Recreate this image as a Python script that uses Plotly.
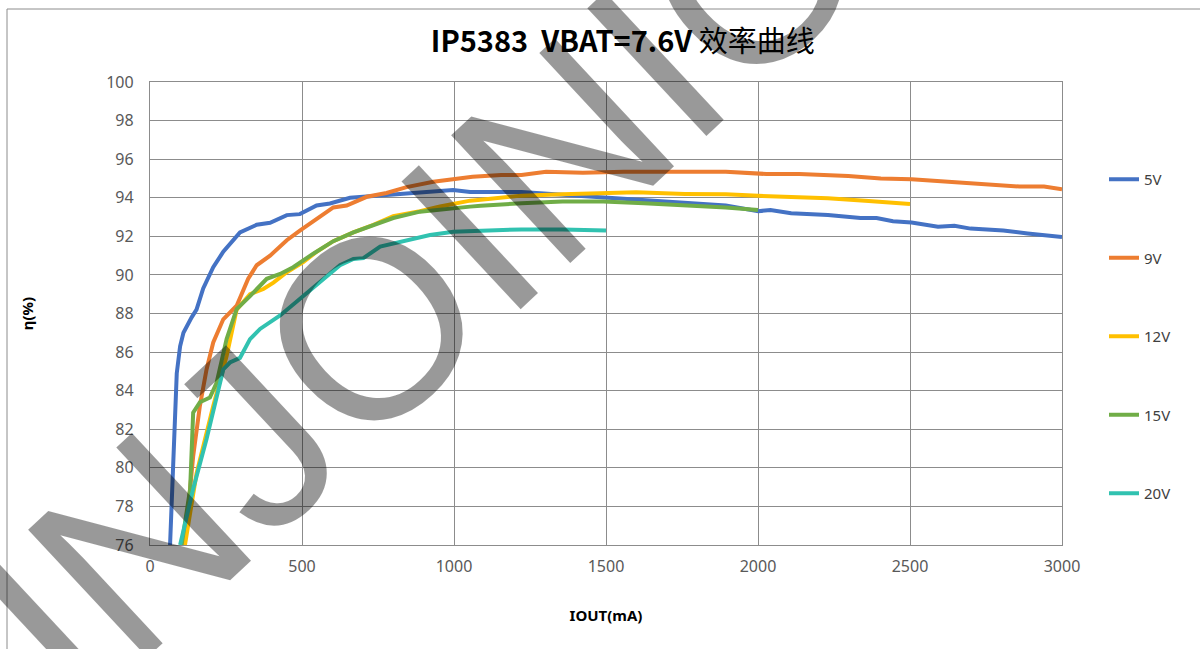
import plotly.graph_objects as go

# ---- data ----
series_names = ["5V", "9V", "12V", "15V", "20V"]
series_colors = ["#4472C4", "#ED7D31", "#FFC000", "#70AD47", "#31C2B0"]

x5 = [66, 77, 88, 99, 110, 137, 153, 175, 208, 241, 296, 351, 395, 450, 493, 548, 592, 658, 734, 845, 910, 997,
      1053, 1088, 1222, 1357, 1491, 1625, 1760, 1894, 2001, 2041, 2109, 2230, 2337, 2390, 2444, 2505, 2592, 2646,
      2699, 2807, 2887, 3000]
y5 = [76.0, 80.6, 84.9, 86.3, 87.0, 87.8, 88.2, 89.3, 90.4, 91.2, 92.2, 92.6, 92.7, 93.1, 93.15, 93.6, 93.7, 94.0,
      94.1, 94.2, 94.3, 94.4, 94.3, 94.3, 94.3, 94.15, 94.0, 93.9, 93.75, 93.6, 93.3, 93.37, 93.2, 93.1, 92.95,
      92.95, 92.78, 92.72, 92.5, 92.55, 92.4, 92.3, 92.15, 91.97]

x9 = [113, 121, 142, 164, 186, 208, 241, 285, 323, 351, 395, 450, 493, 548, 603, 647, 713, 778, 844, 932, 998,
      1061, 1155, 1222, 1303, 1424, 1558, 1693, 1894, 2028, 2136, 2297, 2404, 2505, 2632, 2766, 2860, 2941, 3000]
y9 = [76.0, 77.1, 80.6, 83.2, 85.1, 86.5, 87.7, 88.4, 89.8, 90.5, 91.0, 91.8, 92.3, 92.9, 93.5, 93.6, 94.05, 94.25,
      94.55, 94.83, 94.96, 95.09, 95.18, 95.18, 95.35, 95.3, 95.35, 95.34, 95.35, 95.23, 95.23, 95.13, 95.0, 94.96,
      94.83, 94.7, 94.58, 94.58, 94.44]

x12 = [115, 153, 208, 252, 285, 329, 373, 406, 450, 504, 548, 603, 669, 735, 800, 888, 954, 1053, 1088, 1222,
       1357, 1491, 1599, 1760, 1894, 2001, 2095, 2230, 2364, 2500]
y12 = [76.0, 79.7, 83.2, 85.8, 88.2, 89.0, 89.27, 89.6, 90.14, 90.66, 91.2, 91.75, 92.2, 92.6, 93.05, 93.3, 93.55,
       93.85, 93.9, 94.11, 94.18, 94.23, 94.28, 94.2, 94.18, 94.1, 94.06, 93.97, 93.83, 93.68]

x15 = [104, 132, 142, 164, 197, 219, 252, 285, 329, 384, 428, 471, 537, 603, 669, 735, 800, 888, 954, 1053, 1088,
       1222, 1357, 1491, 1625, 1760, 1894, 2000]
y15 = [76.0, 78.9, 82.86, 83.4, 83.64, 84.4, 86.67, 88.23, 88.9, 89.8, 90.05, 90.4, 91.1, 91.75, 92.2, 92.6, 92.95,
       93.28, 93.4, 93.54, 93.58, 93.72, 93.8, 93.8, 93.72, 93.63, 93.5, 93.37]

x20 = [99, 142, 186, 219, 241, 263, 296, 329, 362, 428, 493, 559, 625, 669, 702, 757, 844, 921, 998, 1088, 1222,
       1357, 1500]
y20 = [76.0, 78.9, 81.5, 83.55, 85.1, 85.46, 85.7, 86.67, 87.2, 87.9, 88.75, 89.6, 90.5, 90.83, 90.87, 91.47, 91.8,
       92.07, 92.24, 92.3, 92.36, 92.36, 92.3]

x_ticks = [0, 500, 1000, 1500, 2000, 2500, 3000]
y_ticks = [76, 78, 80, 82, 84, 86, 88, 90, 92, 94, 96, 98, 100]

title_text = "<b>IP5383\u00a0\u00a0VBAT=7.6V</b> 效率曲线"
x_title = "IOUT(mA)"
y_title = "η(%)"
watermark = "INJOINIC"

xs = [x5, x9, x12, x15, x20]
ys = [y5, y9, y12, y15, y20]

W, H = 1200, 649
L, R, T, B = 150, 138, 82, 104

fig = go.Figure()
for name, color, xv, yv in zip(series_names, series_colors, xs, ys):
    fig.add_trace(go.Scatter(
        x=xv, y=yv, name=name, mode="lines",
        line=dict(color=color, width=4),
        legendgroup=name,
    ))

grid = "#8c8c8c"
tickfont = dict(family="Noto Sans, Open Sans, sans-serif", size=16, color="#595959")

fig.update_layout(
    width=W, height=H,
    margin=dict(l=L, r=R, t=T, b=B),
    paper_bgcolor="white", plot_bgcolor="white",
    title=dict(
        text=title_text,
        font=dict(family="Noto Sans CJK SC, Noto Sans, sans-serif", size=29, color="#000000"),
        x=0.519, xanchor="center", y=1 - 42 / H, yanchor="middle",
    ),
    xaxis=dict(
        range=[0, 3000], tickvals=x_ticks, ticktext=[str(v) for v in x_ticks],
        showgrid=True, gridcolor=grid, gridwidth=1.3,
        showline=True, linecolor=grid, linewidth=1.3, mirror=True,
        zeroline=False, ticks="", tickfont=tickfont, ticklabelstandoff=7,
        title=dict(text="<b>" + x_title + "</b>",
                   font=dict(family="Noto Sans, sans-serif", size=15, color="#000000"), standoff=34),
    ),
    yaxis=dict(
        range=[76, 100], tickvals=y_ticks, ticktext=[str(v) for v in y_ticks],
        showgrid=True, gridcolor=grid, gridwidth=1.3,
        showline=True, linecolor=grid, linewidth=1.3, mirror=True,
        zeroline=False, ticks="", tickfont=tickfont, ticklabelstandoff=12,
        title=dict(text="<b>" + y_title + "</b>",
                   font=dict(family="Noto Sans, sans-serif", size=15, color="#000000"), standoff=68),
    ),
    legend=dict(
        x=(1104 - L) / (W - L - R), xanchor="left",
        y=(H - B - 163) / (H - T - B), yanchor="top",
        font=dict(family="Noto Sans, sans-serif", size=15, color="#404040"),
        tracegroupgap=56, bgcolor="rgba(0,0,0,0)",
    ),
    showlegend=True,
)

# chart-area border (cropped frame)
fig.add_shape(type="rect", xref="paper", yref="paper",
              x0=(7 - L) / (W - L - R), x1=1.3, y0=-0.6, y1=(H - B - 9) / (H - T - B),
              line=dict(color="#8c8c8c", width=1), fillcolor="rgba(0,0,0,0)", layer="below")

# watermark
fig.add_annotation(
    text=watermark, x=880, y=89.5, xref="x", yref="y",
    showarrow=False, textangle=-43, xanchor="center", yanchor="middle",
    font=dict(family="Liberation Sans, Arial, sans-serif", size=254, color="rgba(0,0,0,0.4)"),
)

fig.write_html("out.html", config={"displayModeBar": False},
               post_script="document.body.style.margin='0';document.body.style.overflow='hidden';")
